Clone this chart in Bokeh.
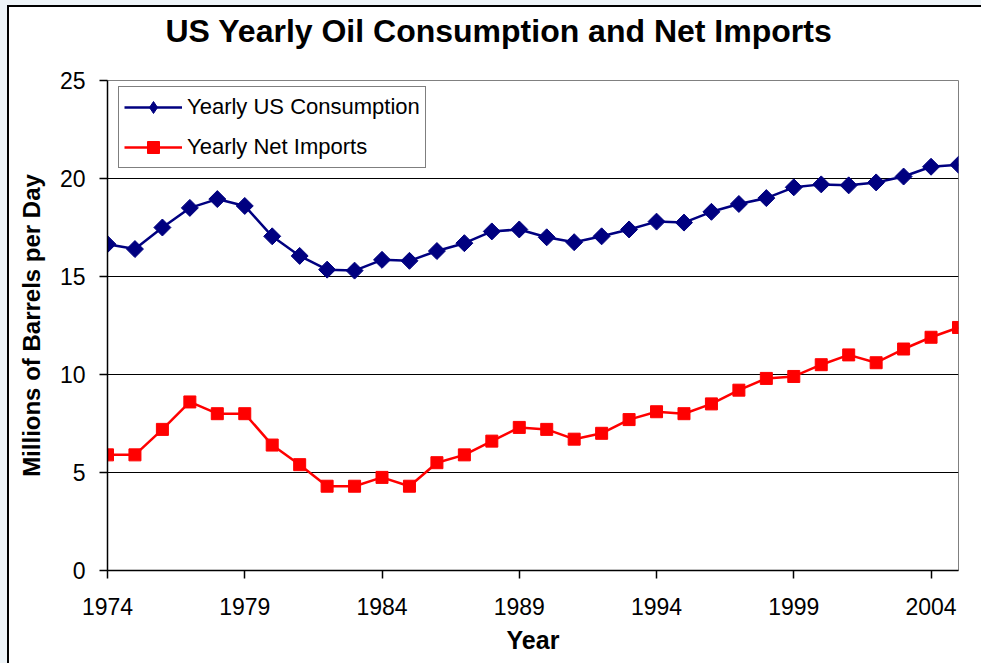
import math
from bokeh.plotting import figure
from bokeh.models import FixedTicker, Legend, LegendItem, ColumnDataSource, Title
from bokeh.embed import file_html
from bokeh.resources import INLINE

years = list(range(1974, 2006))
consumption = [16.65, 16.4, 17.5, 18.5, 18.95, 18.6, 17.05, 16.05, 15.35, 15.3,
               15.85, 15.8, 16.3, 16.7, 17.3, 17.4, 17.0, 16.75, 17.05, 17.4,
               17.8, 17.75, 18.3, 18.7, 19.0, 19.55, 19.7, 19.65, 19.8, 20.1,
               20.6, 20.7]
net_imports = [5.9, 5.9, 7.2, 8.6, 8.0, 8.0, 6.4, 5.4, 4.3, 4.3,
               4.75, 4.3, 5.5, 5.9, 6.6, 7.3, 7.2, 6.7, 7.0, 7.7,
               8.1, 8.0, 8.5, 9.2, 9.8, 9.9, 10.5, 11.0, 10.6, 11.3,
               11.9, 12.4]
x_ticks = [1974, 1979, 1984, 1989, 1994, 1999, 2004]
y_ticks = [0, 5, 10, 15, 20, 25]
grid_ticks = [5, 10, 15, 20]

title_text = "US Yearly Oil Consumption and Net Imports"
series_names = ["Yearly US Consumption", "Yearly Net Imports"]

FONT = "Liberation Sans"

p = figure(width=981, height=663, output_backend="svg", toolbar_location=None,
           x_range=(1974, 2005), y_range=(0, 25),
           min_border_left=107, min_border_right=23, min_border_top=80,
           min_border_bottom=93)
p.styles = {"background": "white",
            "box-shadow": "inset 7px 5px 0 0 #eef4f8, inset 9px 7px 0 0 #000000"}
p.background_fill_color = "white"
p.border_fill_color = None
p.outline_line_color = "#808080"
p.outline_line_width = 1

# blank spacer panel between the frame and the title
p.add_layout(Title(text=" ", text_font_size="10px", standoff=19), "above")

p.title.text = title_text
p.title.text_font = FONT
p.title.text_font_size = "32px"
p.title.text_font_style = "bold"
p.title.text_color = "black"
p.title.align = "left"
p.title.offset = 58
p.title.standoff = 0
p.title.vertical_align = "bottom"

src = ColumnDataSource(dict(year=years, cons=consumption, imp=net_imports))

l1 = p.line("year", "cons", source=src, line_color="#000080", line_width=2.5)
m1 = p.scatter("year", "cons", source=src, marker="square", angle=math.pi / 4,
               size=12, fill_color="#000080", line_color="#000080")
# zero-size diamond renderer used only for the legend swatch
m1_leg = p.scatter("year", "cons", source=src, marker="diamond", size=0,
                   fill_color="#000080", line_color="#000080")
l2 = p.line("year", "imp", source=src, line_color="#FF0000", line_width=2.5)
m2 = p.scatter("year", "imp", source=src, marker="square", size=12,
               fill_color="#FF0000", line_color="#FF0000")

legend = Legend(items=[LegendItem(label=series_names[0], renderers=[l1, m1_leg]),
                       LegendItem(label=series_names[1], renderers=[l2, m2])],
                location=(11, 402))
legend.border_line_color = "black"
legend.border_line_width = 1
legend.background_fill_color = "white"
legend.background_fill_alpha = 1
legend.label_text_font = FONT
legend.label_text_font_size = "22px"
legend.label_text_color = "black"
legend.padding = 5
legend.spacing = 10
legend.label_height = 30
legend.glyph_height = 30
legend.glyph_width = 58
legend.label_standoff = 5
legend.margin = 0
p.add_layout(legend)

# axes
p.xaxis.ticker = FixedTicker(ticks=x_ticks)
p.yaxis.ticker = FixedTicker(ticks=y_ticks)
p.xaxis.axis_label = "Year"
p.yaxis.axis_label = "Millions of Barrels per Day"
for ax in (p.xaxis[0], p.yaxis[0]):
    ax.axis_line_color = "black"
    ax.axis_line_width = 1.5
    ax.major_tick_line_color = "black"
    ax.major_tick_line_width = 1.5
    ax.major_tick_out = 8
    ax.major_tick_in = 0
    ax.minor_tick_line_color = None
    ax.major_label_text_font = FONT
    ax.major_label_text_font_size = "23px"
    ax.major_label_text_color = "black"
    ax.axis_label_text_font = FONT
    ax.axis_label_text_font_style = "bold"
    ax.axis_label_text_color = "black"
p.xaxis.axis_label_text_font_size = "25px"
p.yaxis.axis_label_text_font_size = "24px"
p.xaxis.major_label_standoff = 19
p.yaxis.major_label_standoff = 14
p.xaxis.axis_label_standoff = 8
p.yaxis.axis_label_standoff = 12

p.xgrid.grid_line_color = None
p.ygrid.ticker = FixedTicker(ticks=grid_ticks)
p.ygrid.grid_line_color = "black"
p.ygrid.grid_line_width = 1.2

html = file_html(p, INLINE)
html = html.replace("<body>", '<body style="background:#eef4f8;">', 1)
open("out.html", "w").write(html)
